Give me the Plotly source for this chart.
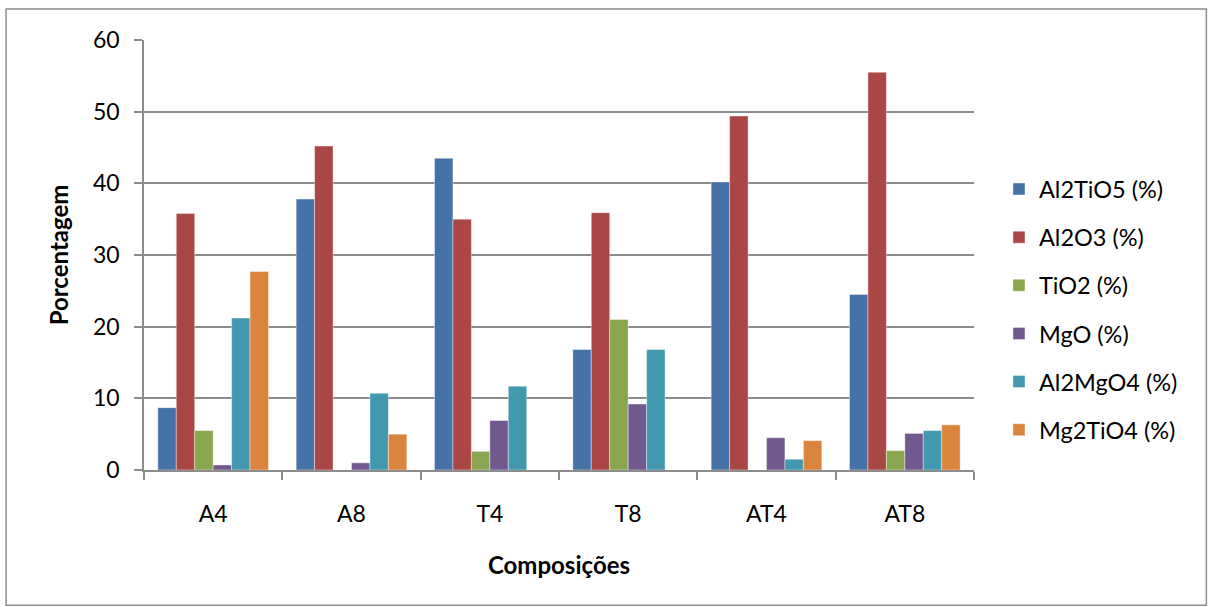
import plotly.graph_objects as go

# Composições and phase percentages
categories = ["A4", "A8", "T4", "T8", "AT4", "AT8"]
al2tio5 = [8.7, 37.8, 43.5, 16.8, 40.2, 24.5]
al2o3 = [35.8, 45.2, 35.0, 35.9, 49.4, 55.5]
tio2 = [5.5, 0, 2.6, 21.0, 0, 2.7]
mgo = [0.7, 1.0, 6.9, 9.2, 4.5, 5.1]
al2mgo4 = [21.2, 10.7, 11.7, 16.8, 1.5, 5.5]
mg2tio4 = [27.7, 5.0, 0, 0, 4.1, 6.3]

series = [
    ("Al2TiO5 (%)", al2tio5, "#4572A7"),
    ("Al2O3 (%)", al2o3, "#AA4643"),
    ("TiO2 (%)", tio2, "#89A54E"),
    ("MgO (%)", mgo, "#71588F"),
    ("Al2MgO4 (%)", al2mgo4, "#4198AF"),
    ("Mg2TiO4 (%)", mg2tio4, "#DB843D"),
]

W, H = 1208, 607
ML, MR, MT, MB = 143.5, 234, 39.5, 136.5
FONT = "Lato, 'Open Sans', sans-serif"
GRID = "#8C8C8C"
FS = 23

fig = go.Figure()
for i, (name, vals, col) in enumerate(series):
    fig.add_trace(go.Bar(
        x=categories, y=vals, name=name,
        marker=dict(color=col, line=dict(color="rgba(255,255,255,0.5)", width=0.8)),
        legendgroup=str(i),
    ))

pw = W - ML - MR
ph = H - MT - MB

def px_x(p):
    return (p - ML) / pw

def px_y(p):
    return (H - MB - p) / ph

fig.update_layout(
    width=W, height=H,
    margin=dict(l=ML, r=MR, t=MT, b=MB, autoexpand=False),
    paper_bgcolor="white", plot_bgcolor="white",
    barmode="group", bargap=0.2, bargroupgap=0,
    font=dict(family=FONT, size=FS, color="#000000"),
    showlegend=True,
    legend=dict(
        x=px_x(999), y=px_y(167), xanchor="left", yanchor="top",
        font=dict(family=FONT, size=23.5, color="#000000"),
        tracegroupgap=14.6, itemwidth=30, traceorder="grouped",
        bgcolor="rgba(0,0,0,0)",
    ),
    xaxis=dict(
        showline=True, linecolor=GRID, linewidth=1.5,
        ticks="outside", tickson="boundaries", ticklen=8, tickcolor=GRID, tickwidth=1.5,
        tickfont=dict(family=FONT, size=FS), ticklabelstandoff=23,
        title=dict(text="<b>Composições</b>", font=dict(family=FONT, size=24), standoff=31),
        showgrid=False,
    ),
    yaxis=dict(
        range=[0, 60], dtick=10,
        showline=True, linecolor=GRID, linewidth=1.5,
        ticks="outside", ticklen=8, tickcolor=GRID, tickwidth=1.5,
        showgrid=True, gridcolor=GRID, gridwidth=1.5,
        tickfont=dict(family=FONT, size=FS), ticklabelstandoff=10,
        title=dict(text="<b>Porcentagem</b>", font=dict(family=FONT, size=24), standoff=18),
        zeroline=False,
    ),
    shapes=[dict(
        type="rect", xref="paper", yref="paper",
        x0=px_x(5.5), x1=px_x(1206.5), y0=px_y(606), y1=px_y(8.5),
        line=dict(color=GRID, width=1.5), fillcolor="rgba(0,0,0,0)", layer="below",
    )],
)

fig.write_html("out.html")
